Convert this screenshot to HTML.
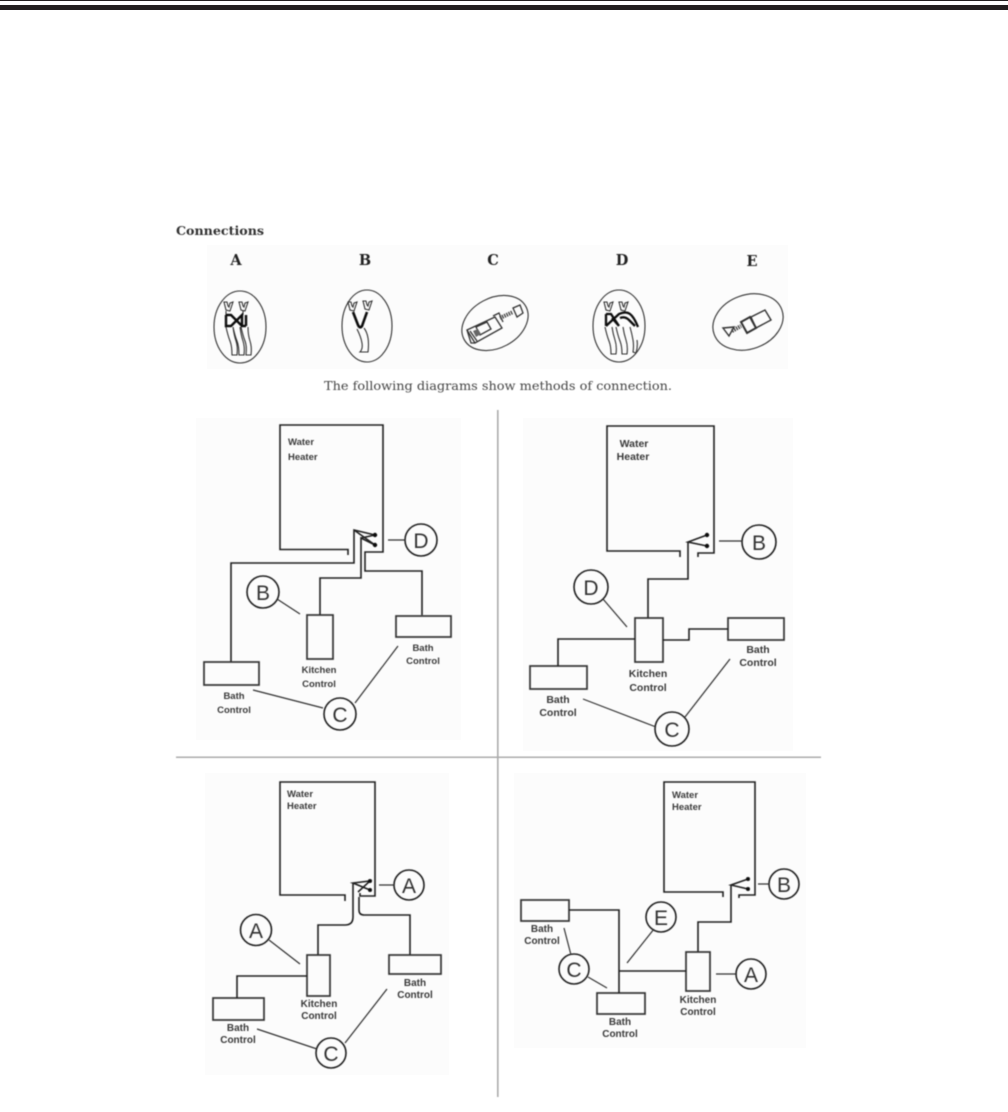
<!DOCTYPE html>
<html><head><meta charset="utf-8">
<style>
html,body{margin:0;padding:0;background:#fff;width:1008px;height:1112px;overflow:hidden}
svg{display:block}
.w{font:bold 9.5px "Liberation Sans",sans-serif;fill:#3a3a3a}
.m{text-anchor:middle}
.c{font:21px "Liberation Sans",sans-serif;fill:#333;text-anchor:middle}
.s{fill:none;stroke:#222;stroke-width:1.6}
.l{fill:none;stroke:#333;stroke-width:1.2}
.o{fill:none;stroke:#333;stroke-width:1.1}
.q{fill:none;stroke:#222;stroke-width:1.6}
.r{fill:none;stroke:#333;stroke-width:1.7}
</style></head><body>
<svg width="1008" height="1112" viewBox="0 0 1008 1112" xmlns="http://www.w3.org/2000/svg">
<defs><filter id="b" x="-5%" y="-5%" width="110%" height="110%"><feGaussianBlur stdDeviation="0.55"/></filter></defs>
<rect x="0" y="0" width="1008" height="1" fill="#231f20"/>
<rect x="0" y="5" width="1008" height="5" fill="#231f20"/>
<g fill="#fcfcfc">
<rect x="207" y="245" width="581" height="124"/>
<rect x="196" y="418" width="265" height="322"/>
<rect x="523" y="418" width="270" height="333"/>
<rect x="205" y="773" width="244" height="302"/>
<rect x="514" y="773" width="292" height="275"/>
</g>
<g filter="url(#b)">
<rect x="497" y="410" width="1.6" height="687" fill="#aaa"/>
<rect x="176" y="756.5" width="645" height="1.5" fill="#aaa"/>

<text x="176" y="235" font-family="'DejaVu Serif',serif" font-weight="bold" font-size="12" fill="#333" textLength="88" lengthAdjust="spacingAndGlyphs">Connections</text>
<g font-family="'DejaVu Serif',serif" font-weight="bold" font-size="14.5" fill="#222" text-anchor="middle">
<text x="236" y="265">A</text><text x="365" y="265">B</text><text x="493" y="265">C</text><text x="622" y="265">D</text><text x="752" y="266">E</text>
</g>
<text x="324" y="390" font-family="'DejaVu Serif',serif" font-size="12" fill="#444" textLength="348" lengthAdjust="spacingAndGlyphs">The following diagrams show methods of connection.</text>

<!-- icons -->
<ellipse class="o" cx="240" cy="327" rx="26" ry="36"/>
<ellipse class="o" cx="367" cy="326" rx="25" ry="36"/>
<ellipse class="o" cx="495" cy="323" rx="35" ry="25" transform="rotate(-28 495 323)"/>
<ellipse class="o" cx="619" cy="326" rx="26" ry="36"/>
<ellipse class="o" cx="748" cy="322" rx="36" ry="27" transform="rotate(-20 748 322)"/>
<!-- A -->
<g fill="none" stroke="#333" stroke-width="1.1">
<path d="M224 302l2 8 4 1 3-9-3 1-1 4-1-1-1-4zM239 302l2 8 4 1 3-9-3 1-1 4-1-1-1-4z"/>
<path d="M226 311v4M243 311v4"/>
<path d="M226 327q2 9 4 14t2 14h5q1-8-1-14t-3-14M233 327q2 9 4 14t2 14h5q1-8-1-14t-3-14M241 327q2 9 4 14t1 14h5q1-8-1-14t-2-14"/>
</g>
<path d="M226 315v11h5l11-11v11h4M226 315h5l11 11h4M246 315v11" fill="none" stroke="#111" stroke-width="2.4"/>
<!-- B -->
<g fill="none" stroke="#333" stroke-width="1.1">
<path d="M348 302l2 8 4 1 3-9-3 1-1 4-1-1-1-4zM363 301l2 8 4 1 3-9-3 1-1 4-1-1-1-4z"/>
<path d="M357 329q4 8 5 14t-2 9h8q1-8 0-14t-4-10"/>
</g>
<path d="M353 312L358 325Q360 329 362 326L367 312" fill="none" stroke="#111" stroke-width="2.6"/>
<!-- C -->
<g fill="none" stroke="#333" stroke-width="1.3">
<path d="M467 330l28-13 7 11-27 15z"/>
<path d="M467 330l4 13 4 0M470 331l7 10M476 327l4 8 11-6-4-7z"/>
<path d="M493 316l6-3 4 9"/>
<path d="M513 308l7-3 3 8-6 4z"/>
</g>
<path d="M500 318l13-6" fill="none" stroke="#444" stroke-width="4" stroke-dasharray="1.4 1"/>
<path d="M473 331l5-2 3 5-5 3z" fill="#666"/>
<!-- D -->
<g fill="none" stroke="#333" stroke-width="1.1">
<path d="M604 302l2 8 4 1 3-9-3 1-1 4-1-1-1-4zM619 302l2 8 4 1 3-9-3 1-1 4-1-1-1-4z"/>
<path d="M605 327q2 9 4 14t2 13h5q1-8-1-14t-3-13M616 327q2 9 4 14t2 13h5q1-8-1-14t-3-13M630 327q2 7 3 13t0 12l3 1q2-7 1-13"/>
</g>
<path d="M606 314v12M606 314h5l8 12M606 326l13-12q7-3 11 0t8 13M612 318l7 8M620 318q5-2 9 2t6 6" fill="none" stroke="#111" stroke-width="2.3"/>
<!-- E -->
<g fill="none" stroke="#333" stroke-width="1.4">
<path d="M723 328l11-1-5 9z"/>
<path d="M741 322l9-5 6 11-9 5z" stroke-width="2"/>
<path d="M751 317l14-7 6 10-15 8z"/>
</g>
<path d="M732 331l9-5" fill="none" stroke="#444" stroke-width="4" stroke-dasharray="1.4 1"/>

<!-- TL -->
<path class="s" d="M348 555V549.5H280V425H383V552H365V571H422V615"/>
<path class="s" d="M231 662V563H354V530L375 535M354 530L375 545"/>
<path class="s" d="M320 615V578H361V538L375 545M361 538L375 535"/>
<circle cx="375" cy="535" r="2.2" fill="#111"/><circle cx="375" cy="545" r="2.2" fill="#111"/>
<rect class="r" x="307" y="615" width="26" height="44"/>
<rect class="r" x="204" y="662" width="55" height="23"/>
<rect class="r" x="396" y="616" width="55" height="21"/>
<circle class="q" cx="421" cy="540" r="16"/><circle class="q" cx="263" cy="592" r="16"/><circle class="q" cx="340" cy="714" r="16"/>
<path class="l" d="M388 540H405M277 599L300 614M253 690L323 708M355 703L398 646"/>
<text class="c" x="421" y="548">D</text><text class="c" x="263" y="600">B</text><text class="c" x="340" y="722">C</text>
<g class="w"><text x="288" y="445">Water</text><text x="288" y="460">Heater</text></g>
<g class="w m" font-size="9"><text x="319" y="673">Kitchen</text><text x="319" y="687">Control</text><text x="423" y="651">Bath</text><text x="423" y="664">Control</text><text x="234" y="699">Bath</text><text x="234" y="713">Control</text></g>

<!-- TR -->
<path class="s" d="M680 557V551H607V426H714V553H698V557"/>
<path class="s" d="M707 535L688 542L707 546M688 542V579H648V618"/>
<circle cx="707" cy="535" r="2.2" fill="#111"/><circle cx="707" cy="546" r="2.2" fill="#111"/>
<rect class="r" x="635" y="618" width="28" height="44"/>
<rect class="r" x="530" y="666" width="57" height="23"/>
<rect class="r" x="728" y="618" width="56" height="22"/>
<path class="s" d="M558 666V639H635M663 640H689V629H728"/>
<circle class="q" cx="759" cy="542" r="17"/><circle class="q" cx="591" cy="587" r="17"/><circle class="q" cx="672" cy="729" r="17"/>
<path class="l" d="M719 541H742M603 599L627 627M583 699L656 727M685 717L730 659"/>
<text class="c" x="759" y="550">B</text><text class="c" x="591" y="595">D</text><text class="c" x="672" y="737">C</text>
<g class="w m" style="font-size:10.5px"><text x="634" y="447">Water</text><text x="633" y="460">Heater</text><text x="648" y="677">Kitchen</text><text x="648" y="691">Control</text><text x="558" y="703">Bath</text><text x="558" y="716">Control</text><text x="758" y="653">Bath</text><text x="758" y="666">Control</text></g>

<!-- BL -->
<path class="s" d="M345 901V895H280V782H375V896H360V893"/>
<path class="s" d="M359 897V910Q359 915 364 915H410V955"/>
<path class="s" d="M370 890L353 883L370 881L358 892M353 883V917Q353 925 345 925H318V955"/>
<circle cx="370" cy="881" r="2" fill="#111"/><circle cx="370" cy="890" r="2" fill="#111"/>
<rect class="r" x="307" y="955" width="23" height="41"/>
<rect class="r" x="213" y="998" width="51" height="22"/>
<rect class="r" x="389" y="955" width="52" height="19"/>
<path class="s" d="M237 998V976H307"/>
<circle class="q" cx="409" cy="885" r="15"/><circle class="q" cx="256" cy="930" r="15.5"/><circle class="q" cx="331" cy="1053" r="15"/>
<path class="l" d="M379 885H394M269 940L300 964M257 1029L317 1049M345 1043L387 989"/>
<text class="c" x="409" y="893">A</text><text class="c" x="256" y="938">A</text><text class="c" x="331" y="1061">C</text>
<g class="w"><text x="287" y="797">Water</text><text x="287" y="809">Heater</text></g>
<g class="w m" style="font-size:10px"><text x="319" y="1007">Kitchen</text><text x="319" y="1019">Control</text><text x="238" y="1031">Bath</text><text x="238" y="1043">Control</text><text x="415" y="986">Bath</text><text x="415" y="998">Control</text></g>

<!-- BR -->
<path class="s" d="M723 897V892H664V782H755V895H739V898"/>
<path class="s" d="M748 879L731 885L748 889M731 885V922H698V952"/>
<circle cx="748" cy="879" r="2" fill="#111"/><circle cx="748" cy="889" r="2" fill="#111"/>
<rect class="r" x="686" y="952" width="24" height="39"/>
<rect class="r" x="521" y="900" width="48" height="21"/>
<rect class="r" x="597" y="993" width="48" height="21"/>
<path class="s" d="M569 910H619V993M619 971H686"/>
<circle class="q" cx="661" cy="917" r="15"/><circle class="q" cx="784" cy="884" r="15"/><circle class="q" cx="751" cy="974" r="15"/><circle class="q" cx="574" cy="969" r="15"/>
<path class="l" d="M627 963L654 929M758 884H769M716 974H737M564 928L571 955M588 977L607 988"/>
<text class="c" x="661" y="925">E</text><text class="c" x="784" y="892">B</text><text class="c" x="751" y="982">A</text><text class="c" x="574" y="977">C</text>
<g class="w"><text x="672" y="798">Water</text><text x="672" y="810">Heater</text></g>
<g class="w m" style="font-size:10px"><text x="542" y="932">Bath</text><text x="542" y="944">Control</text><text x="620" y="1025">Bath</text><text x="620" y="1037">Control</text><text x="698" y="1003">Kitchen</text><text x="698" y="1015">Control</text></g>
</g>
</svg>
</body></html>
